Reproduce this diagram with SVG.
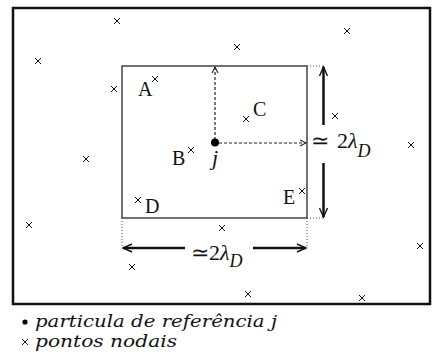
<svg xmlns="http://www.w3.org/2000/svg" width="432" height="362" viewBox="0 0 432 362">
<style>
.lbl{font-family:"Liberation Serif","Times New Roman",serif;font-size:20px;fill:#111}
.big{font-family:"Liberation Serif","Times New Roman",serif;fill:#111}
.it{font-style:italic}
.leg{font-family:"DejaVu Serif","Liberation Serif",serif;font-style:italic;font-size:17px;fill:#111}
.x{stroke:#111;stroke-width:1;fill:none}
.solid{stroke:#111;stroke-width:2.5;fill:none}
.dash{stroke:#222;stroke-width:1.2;stroke-dasharray:3 2;fill:none}
.dot{stroke:#555;stroke-width:1;stroke-dasharray:1 2;fill:none}
</style>
<defs>
<marker id="vbig" markerUnits="userSpaceOnUse" markerWidth="12" markerHeight="12" refX="10" refY="5" orient="auto" viewBox="0 0 12 10">
<path d="M1,1 L10,5 L1,9" fill="none" stroke="#111" stroke-width="1.4"/>
</marker>
<marker id="vsmall" markerUnits="userSpaceOnUse" markerWidth="8" markerHeight="8" refX="7" refY="4" orient="auto" viewBox="0 0 8 8">
<path d="M1,1 L7,4 L1,7" fill="none" stroke="#222" stroke-width="1.1"/>
</marker>
<path id="cx" class="x" d="M-3,-3 L3,3 M-3,3 L3,-3"/>
</defs>
<rect id="frame" x="13" y="8" width="417" height="296" fill="#fff" stroke="#111" stroke-width="2.5"/>
<g id="box"><rect x="122" y="66" width="185" height="152" fill="none" stroke="#444" stroke-width="1.5"/></g>
<g id="connectors">
<path class="dot" d="M307,66 H323 M307,218 H323 M122,218 V248 M307,218 V248"/>
<path class="dash" d="M215,140 V67" marker-end="url(#vsmall)"/>
<path class="dash" d="M219,143 H306" marker-end="url(#vsmall)"/>
<path class="solid" d="M323.5,125 V67" marker-end="url(#vbig)"/>
<path class="solid" d="M323.5,163 V217" marker-end="url(#vbig)"/>
<path class="solid" d="M185,248 H123" marker-end="url(#vbig)"/>
<path class="solid" d="M253,248 H306" marker-end="url(#vbig)"/>
</g>
<g id="particle-j">
<circle cx="215" cy="142.5" r="4" fill="#000"/>
<text class="big it" x="212" y="165" font-size="22">j</text>
</g>
<g id="node-A"><use href="#cx" x="155" y="79"/><text class="lbl" x="138" y="96">A</text></g>
<g id="node-B"><use href="#cx" x="191" y="150"/><text class="lbl" x="172" y="165">B</text></g>
<g id="node-C"><use href="#cx" x="246" y="119"/><text class="lbl" x="253" y="116">C</text></g>
<g id="node-D"><use href="#cx" x="138" y="200"/><text class="lbl" x="145" y="213">D</text></g>
<g id="node-E"><use href="#cx" x="302" y="191"/><text class="lbl" x="283" y="204">E</text></g>
<g id="nodes-other">
<use href="#cx" x="117" y="21"/>
<use href="#cx" x="347" y="31"/>
<use href="#cx" x="237" y="47"/>
<use href="#cx" x="38" y="61"/>
<use href="#cx" x="114" y="89"/>
<use href="#cx" x="335" y="116"/>
<use href="#cx" x="411" y="145"/>
<use href="#cx" x="86" y="159"/>
<use href="#cx" x="29" y="225"/>
<use href="#cx" x="222" y="228"/>
<use href="#cx" x="420" y="246"/>
<use href="#cx" x="132" y="267"/>
<use href="#cx" x="248" y="294"/>
<use href="#cx" x="362" y="298"/>
</g>
<g id="label-v">
<text class="big" x="311" y="148" font-size="22">≃<tspan x="337">2</tspan><tspan class="it">λ</tspan><tspan class="it" font-size="18" dy="9">D</tspan></text>
</g>
<g id="label-h">
<text class="big" x="191" y="260" font-size="22">≃2<tspan class="it">λ</tspan><tspan class="it" font-size="18" dy="7">D</tspan></text>
</g>
<g id="legend">
<circle cx="25" cy="322" r="2.6" fill="#000"/>
<text class="leg" x="35" y="327" textLength="242" lengthAdjust="spacingAndGlyphs">particula de referência j</text>
<use href="#cx" x="25" y="342"/>
<text class="leg" x="35" y="347" textLength="142" lengthAdjust="spacingAndGlyphs">pontos nodais</text>
</g>
</svg>
